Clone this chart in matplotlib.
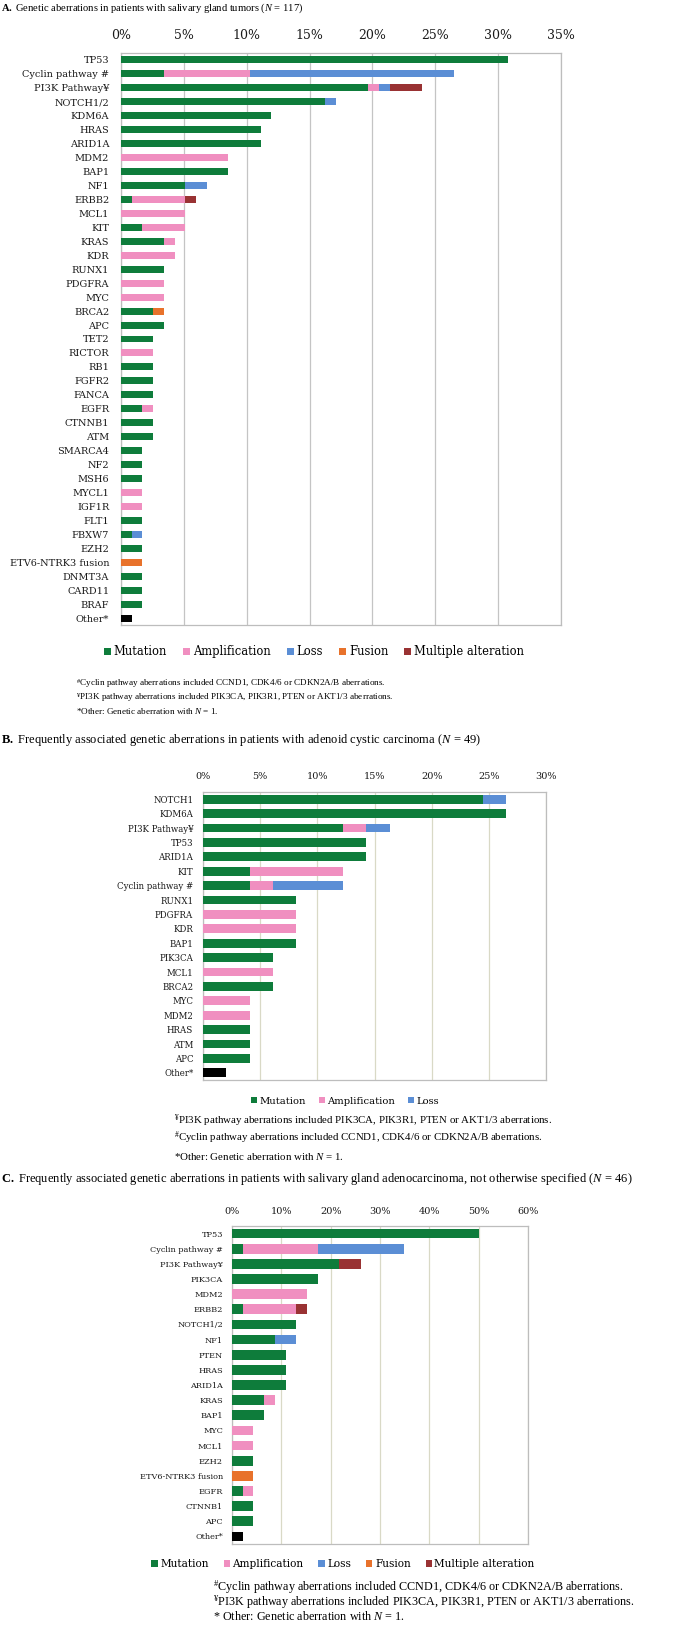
import numpy as np
import matplotlib
matplotlib.use('Agg')
import matplotlib.pyplot as plt
from matplotlib.patches import Patch

plt.rcParams['mathtext.fontset'] = 'custom'
plt.rcParams['mathtext.rm'] = 'Liberation Serif'
plt.rcParams['mathtext.it'] = 'Liberation Serif:italic'
plt.rcParams['mathtext.bf'] = 'Liberation Serif:bold'

W, H = 680, 1628

COLORS = {
    'Mutation': '#0E7C3B',
    'Amplification': '#F08FC0',
    'Loss': '#5B8ED5',
    'Fusion': '#E8722B',
    'Multiple alteration': '#993233',
    'Other': '#000000',
}

# Panel A: all salivary gland tumors (counts of patients, N = 117)
A_N = 117
A_GENES = ['TP53', 'Cyclin pathway #', 'PI3K Pathway¥', 'NOTCH1/2', 'KDM6A', 'HRAS', 'ARID1A',
           'MDM2', 'BAP1', 'NF1', 'ERBB2', 'MCL1', 'KIT', 'KRAS', 'KDR', 'RUNX1', 'PDGFRA',
           'MYC', 'BRCA2', 'APC', 'TET2', 'RICTOR', 'RB1', 'FGFR2', 'FANCA', 'EGFR', 'CTNNB1',
           'ATM', 'SMARCA4', 'NF2', 'MSH6', 'MYCL1', 'IGF1R', 'FLT1', 'FBXW7', 'EZH2',
           'ETV6-NTRK3 fusion', 'DNMT3A', 'CARD11', 'BRAF', 'Other*']
A_MUT = [36, 4, 23, 19, 14, 13, 13, 0, 10, 6, 1, 0, 2, 4, 0, 4, 0, 0, 3, 4, 3, 0, 3, 3, 3, 2, 3,
         3, 2, 2, 2, 0, 0, 2, 1, 2, 0, 2, 2, 2, 0]
A_AMP = [0, 8, 1, 0, 0, 0, 0, 10, 0, 0, 5, 6, 4, 1, 5, 0, 4, 4, 0, 0, 0, 3, 0, 0, 0, 1, 0,
         0, 0, 0, 0, 2, 2, 0, 0, 0, 0, 0, 0, 0, 0]
A_LOSS = [0, 19, 1, 1, 0, 0, 0, 0, 0, 2, 0, 0, 0, 0, 0, 0, 0, 0, 0, 0, 0, 0, 0, 0, 0, 0, 0,
          0, 0, 0, 0, 0, 0, 0, 1, 0, 0, 0, 0, 0, 0]
A_FUSION = [0, 0, 0, 0, 0, 0, 0, 0, 0, 0, 0, 0, 0, 0, 0, 0, 0, 0, 1, 0, 0, 0, 0, 0, 0, 0, 0,
            0, 0, 0, 0, 0, 0, 0, 0, 0, 2, 0, 0, 0, 0]
A_MULTI = [0, 0, 3, 0, 0, 0, 0, 0, 0, 0, 1, 0, 0, 0, 0, 0, 0, 0, 0, 0, 0, 0, 0, 0, 0, 0, 0,
           0, 0, 0, 0, 0, 0, 0, 0, 0, 0, 0, 0, 0, 0]
A_OTHER = [0] * 40 + [1]

# Panel B: adenoid cystic carcinoma (N = 49)
B_N = 49
B_GENES = ['NOTCH1', 'KDM6A', 'PI3K Pathway¥', 'TP53', 'ARID1A', 'KIT', 'Cyclin pathway #',
           'RUNX1', 'PDGFRA', 'KDR', 'BAP1', 'PIK3CA', 'MCL1', 'BRCA2', 'MYC', 'MDM2', 'HRAS',
           'ATM', 'APC', 'Other*']
B_MUT = [12, 13, 6, 7, 7, 2, 2, 4, 0, 0, 4, 3, 0, 3, 0, 0, 2, 2, 2, 0]
B_AMP = [0, 0, 1, 0, 0, 4, 1, 0, 4, 4, 0, 0, 3, 0, 2, 2, 0, 0, 0, 0]
B_LOSS = [1, 0, 1, 0, 0, 0, 3, 0, 0, 0, 0, 0, 0, 0, 0, 0, 0, 0, 0, 0]
B_OTHER = [0] * 19 + [1]

# Panel C: adenocarcinoma NOS (N = 46)
C_N = 46
C_GENES = ['TP53', 'Cyclin pathway #', 'PI3K Pathway¥', 'PIK3CA', 'MDM2', 'ERBB2', 'NOTCH1/2',
           'NF1', 'PTEN', 'HRAS', 'ARID1A', 'KRAS', 'BAP1', 'MYC', 'MCL1', 'EZH2',
           'ETV6-NTRK3 fusion', 'EGFR', 'CTNNB1', 'APC', 'Other*']
C_MUT = [23, 1, 10, 8, 0, 1, 6, 4, 5, 5, 5, 3, 3, 0, 0, 2, 0, 1, 2, 2, 0]
C_AMP = [0, 7, 0, 0, 7, 5, 0, 0, 0, 0, 0, 1, 0, 2, 2, 0, 0, 1, 0, 0, 0]
C_LOSS = [0, 8, 0, 0, 0, 0, 0, 2, 0, 0, 0, 0, 0, 0, 0, 0, 0, 0, 0, 0, 0]
C_FUSION = [0, 0, 0, 0, 0, 0, 0, 0, 0, 0, 0, 0, 0, 0, 0, 0, 2, 0, 0, 0, 0]
C_MULTI = [0, 0, 2, 0, 0, 1, 0, 0, 0, 0, 0, 0, 0, 0, 0, 0, 0, 0, 0, 0, 0]
C_OTHER = [0] * 20 + [1]


def draw_panel(fig, box, genes, series, n, xmax, step, bar_h, tick_size, label_size,
               tick_pad, label_pad, grid_color):
    l, t, r, b = box
    ax = fig.add_axes([l / W, 1 - b / H, (r - l) / W, (b - t) / H])
    y = np.arange(len(genes))
    left = np.zeros(len(genes))
    for name, counts in series.items():
        pct = np.array(counts) / n * 100
        ax.barh(y, pct, left=left, height=bar_h, color=COLORS[name], linewidth=0, zorder=3)
        left += pct
    ax.set_xlim(0, xmax)
    ax.set_ylim(len(genes) - 0.5, -0.5)
    ax.set_xticks(np.arange(0, xmax + 0.1, step))
    ax.xaxis.set_major_formatter(lambda v, p: f'{v:.0f}%')
    ax.xaxis.tick_top()
    ax.tick_params(axis='x', length=0, pad=tick_pad, labelsize=tick_size)
    ax.set_yticks(y, genes)
    ax.tick_params(axis='y', length=0, pad=label_pad, labelsize=label_size)
    for lab in ax.get_xticklabels() + ax.get_yticklabels():
        lab.set_fontfamily('DejaVu Serif')
        lab.set_color('#1a1a1a')
    ax.grid(axis='x', color=grid_color, linewidth=0.9, zorder=0)
    for s in ax.spines.values():
        s.set_color('#BDBDBD')
        s.set_linewidth(0.9)
    return ax


def add_legend(fig, names, x, y, size, spacing):
    handles = [Patch(facecolor=COLORS[k], edgecolor='none') for k in names]
    fig.legend(handles, names, loc='center', bbox_to_anchor=(x / W, 1 - y / H), ncol=len(names),
               frameon=False, handlelength=0.6, handleheight=0.6, handletextpad=0.25,
               columnspacing=spacing, prop={'family': 'DejaVu Serif', 'size': size})


def add_text(fig, x, y, s, size):
    fig.text(x / W, 1 - y / H, s, fontsize=size, family='Liberation Serif', va='center', ha='left')


fig = plt.figure(figsize=(W / 100, H / 100), dpi=100)

# A
add_text(fig, 1, 8, r'$\mathbf{A.}$ Genetic aberrations in patients with salivary gland tumors ($\mathit{N}$ = 117)', 7.6)
draw_panel(fig, (121, 53, 561, 625), A_GENES,
           {'Mutation': A_MUT, 'Amplification': A_AMP, 'Loss': A_LOSS, 'Fusion': A_FUSION,
            'Multiple alteration': A_MULTI, 'Other': A_OTHER},
           A_N, 35, 5, 0.5, 9, 7.0, 8, 8.5, '#C4C4C4')
add_legend(fig, ['Mutation', 'Amplification', 'Loss', 'Fusion', 'Multiple alteration'], 314, 652, 8.3, 1.4)
add_text(fig, 76, 683, r'$^{\#}$Cyclin pathway aberrations included CCND1, CDK4/6 or CDKN2A/B aberrations.', 6.6)
add_text(fig, 76, 697, r'$^{¥}$PI3K pathway aberrations included PIK3CA, PIK3R1, PTEN or AKT1/3 aberrations.', 6.6)
add_text(fig, 76, 711, r'*Other: Genetic aberration with $\mathit{N}$ = 1.', 6.6)

# B
add_text(fig, 1, 740, r'$\mathbf{B.}$ Frequently associated genetic aberrations in patients with adenoid cystic carcinoma ($\mathit{N}$ = 49)', 9)
draw_panel(fig, (203, 792, 546, 1080), B_GENES,
           {'Mutation': B_MUT, 'Amplification': B_AMP, 'Loss': B_LOSS, 'Other': B_OTHER},
           B_N, 30, 5, 0.62, 7, 6.2, 8, 7, '#D9D9C6')
add_legend(fig, ['Mutation', 'Amplification', 'Loss'], 345, 1101, 7.2, 1.3)
add_text(fig, 174, 1121, r'$^{¥}$PI3K pathway aberrations included PIK3CA, PIK3R1, PTEN or AKT1/3 aberrations.', 7.8)
add_text(fig, 174, 1138, r'$^{\#}$Cyclin pathway aberrations included CCND1, CDK4/6 or CDKN2A/B aberrations.', 7.8)
add_text(fig, 174, 1156, r'*Other: Genetic aberration with $\mathit{N}$ = 1.', 7.8)

# C
add_text(fig, 1, 1179, r'$\mathbf{C.}$ Frequently associated genetic aberrations in patients with salivary gland adenocarcinoma, not otherwise specified ($\mathit{N}$ = 46)', 9)
draw_panel(fig, (232, 1226, 528, 1544), C_GENES,
           {'Mutation': C_MUT, 'Amplification': C_AMP, 'Loss': C_LOSS, 'Fusion': C_FUSION,
            'Multiple alteration': C_MULTI, 'Other': C_OTHER},
           C_N, 60, 10, 0.65, 7, 5.9, 7, 6.5, '#D9D9C6')
add_legend(fig, ['Mutation', 'Amplification', 'Loss', 'Fusion', 'Multiple alteration'], 343, 1564, 7.6, 1.4)
add_text(fig, 213, 1587, r'$^{\#}$Cyclin pathway aberrations included CCND1, CDK4/6 or CDKN2A/B aberrations.', 8.7)
add_text(fig, 213, 1602, r'$^{¥}$PI3K pathway aberrations included PIK3CA, PIK3R1, PTEN or AKT1/3 aberrations.', 8.7)
add_text(fig, 213, 1616, r'* Other: Genetic aberration with $\mathit{N}$ = 1.', 8.7)

fig.savefig('out.png', dpi=100)
